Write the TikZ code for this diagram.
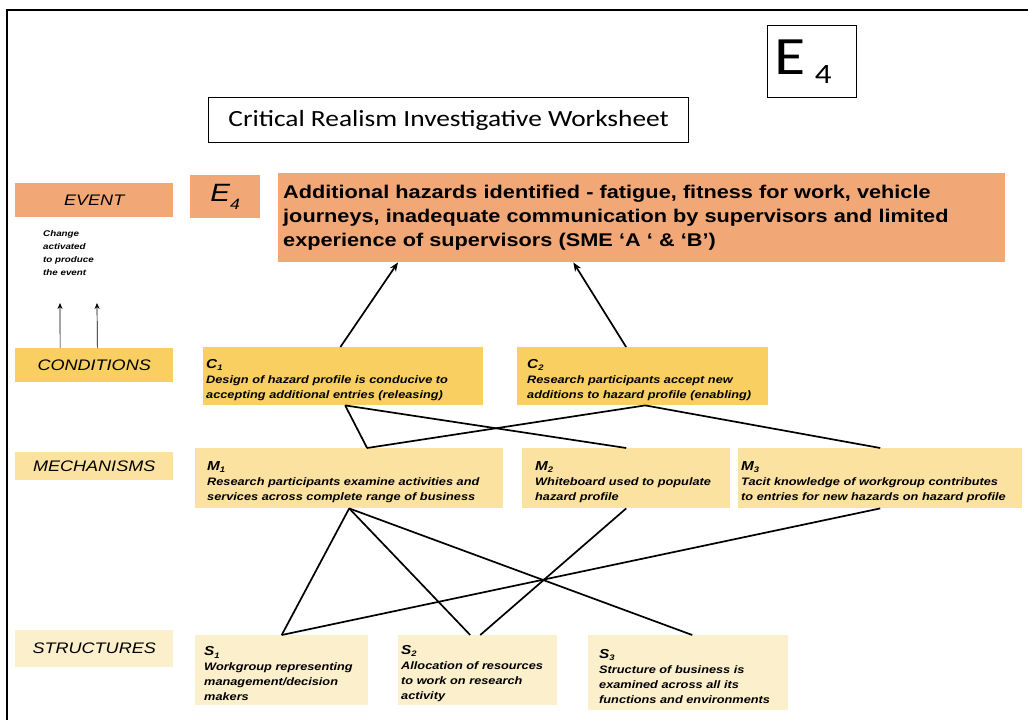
\documentclass[tikz,border=0pt]{standalone}
\usepackage{fontspec}
\setmainfont{Liberation Sans}[FakeStretch=1.18]
\newfontfamily\titlefont{Carlito}[FakeStretch=1.18]
\usetikzlibrary{calc,arrows.meta}

\definecolor{evfill}{RGB}{242,167,118}
\definecolor{cofill}{RGB}{248,207,96}
\definecolor{mefill}{RGB}{251,226,160}
\definecolor{stfill}{RGB}{252,239,204}

% lowered index used in the box headings
\newcommand\lowidx[1]{\raisebox{-0.35ex}{\fontsize{8}{8}\selectfont #1}}
\newcommand\boxhead[2]{{\rule{0pt}{16pt}\fontsize{13}{15}\selectfont #1\lowidx{#2}}}

\tikzset{
  rowlabel/.style={anchor=north west, inner sep=0pt, minimum width=158,
    font=\itshape\fontsize{15.3}{16}\selectfont},
  factorbox/.style={anchor=north west, inner ysep=0pt, align=left,
    font=\bfseries\itshape\fontsize{10.8}{15}\selectfont},
  link/.style={line width=1.7pt},
  causal/.style={line width=1.7pt, -{Stealth[length=9pt,width=7pt]}},
  smallup/.style={line width=0.7pt, -{Stealth[length=6pt,width=5pt]}}
}

\begin{document}
\begin{tikzpicture}[x=1pt,y=-1pt]
\useasboundingbox (0,0) rectangle (1028,720);

% sheet border
\draw[line width=1.6pt] (7,730) -- (7,10) -- (1035,10);

% heading boxes
\node[draw, line width=1.2pt, anchor=north west, minimum width=89, minimum height=72,
  inner sep=0pt, font=\titlefont\fontsize{54}{54}\selectfont] (tag) at (767,25)
  {E\,\raisebox{-9pt}{\fontsize{28}{28}\selectfont 4}\hspace*{18pt}};
\node[draw, line width=1.2pt, anchor=north west, minimum width=480, minimum height=45,
  inner sep=0pt, font=\titlefont\fontsize{23.2}{24}\selectfont] (title) at (208,97)
  {Critical Realism Investigative Worksheet};

% row labels
\node[rowlabel, fill=evfill, minimum height=34] (lev) at (15,183) {EVENT};
\node[rowlabel, fill=cofill, minimum height=34] (lco) at (15,348) {CONDITIONS};
\node[rowlabel, fill=mefill, minimum height=28] (lme) at (15,452) {MECHANISMS};
\node[rowlabel, fill=stfill, minimum height=37] (lst) at (15,630) {STRUCTURES};

% event
\node[anchor=north west, fill=evfill, minimum width=70, minimum height=43, inner sep=0pt,
  font=\itshape\fontsize{25}{25}\selectfont] (evtag) at (190,175)
  {E\raisebox{-0.3em}{\fontsize{15}{15}\selectfont 4}};
\node[anchor=north west, fill=evfill, minimum width=727, minimum height=89,
  inner xsep=5pt, inner ysep=0pt, text width=717, align=left,
  font=\bfseries\fontsize{18.4}{24}\selectfont] (ev) at (278,173)
  {Additional hazards identified - fatigue, fitness for work, vehicle\\
   journeys, inadequate communication by supervisors and limited\\
   experience of supervisors (SME ‘A ‘ \& ‘B’)};

\node[anchor=north west, inner sep=0pt, align=left,
  font=\bfseries\itshape\fontsize{8.3}{13}\selectfont] (note) at (43,230)
  {Change\\activated\\to produce\\the event};
\coordinate (upa) at (60,303);
\coordinate (upb) at (97,303);

% conditions
\node[factorbox, fill=cofill, minimum width=280, minimum height=58,
  inner xsep=3pt, text width=274] (c1) at (203,347)
  {\boxhead{C}{1}\\Design of hazard profile is conducive to\\accepting additional entries (releasing)};
\node[factorbox, fill=cofill, minimum width=251, minimum height=58,
  inner xsep=10pt, text width=231] (c2) at (517,347)
  {\boxhead{C}{2}\\Research participants accept new\\additions to hazard profile (enabling)};

% mechanisms
\node[factorbox, fill=mefill, minimum width=308, minimum height=60,
  inner xsep=12pt, text width=284] (m1) at (195,448)
  {\boxhead{M}{1}\\Research participants examine activities and\\services across complete range of business};
\node[factorbox, fill=mefill, minimum width=208, minimum height=60,
  inner xsep=13pt, text width=182] (m2) at (522,448)
  {\boxhead{M}{2}\\Whiteboard used to populate\\hazard profile};
\node[factorbox, fill=mefill, minimum width=284, minimum height=60,
  inner xsep=3pt, text width=278] (m3) at (738,448)
  {\boxhead{M}{3}\\Tacit knowledge of workgroup contributes\\to entries for new hazards on hazard profile};

% structures
\node[factorbox, fill=stfill, minimum width=173, minimum height=70,
  inner xsep=9pt, text width=155] (s1) at (195,635)
  {\boxhead{S}{1}\\Workgroup representing\\management/decision\\makers};
\node[factorbox, fill=stfill, minimum width=159, minimum height=70,
  inner xsep=3pt, text width=153] (s2) at (398,635)
  {\boxhead{S}{2}\\Allocation of resources\\to work on research\\activity};
\node[factorbox, fill=stfill, minimum width=200, minimum height=75,
  inner xsep=11pt, text width=178] (s3) at (588,635)
  {\boxhead{S}{3}\\Structure of business is\\examined across all its\\functions and environments};

% change arrows beside the labels
\draw[smallup] ($(lco.north west)!0.285!(lco.north east)$) -- (upa);
\draw[smallup] ($(lco.north west)!0.52!(lco.north east)$) -- (upb);

% conditions produce the event
\draw[causal] ($(c1.north west)!0.49!(c1.north east)$) -- ($(ev.south west)!0.165!(ev.south east)$);
\draw[causal] ($(c2.north west)!0.434!(c2.north east)$) -- ($(ev.south west)!0.406!(ev.south east)$);

% mechanisms to conditions
\draw[link] ($(c1.south west)!0.507!(c1.south east)$) -- ($(m1.north west)!0.558!(m1.north east)$);
\draw[link] ($(c1.south west)!0.507!(c1.south east)$) -- (m2.north);
\draw[link] ($(c2.south west)!0.51!(c2.south east)$) -- ($(m1.north west)!0.558!(m1.north east)$);
\draw[link] ($(c2.south west)!0.51!(c2.south east)$) -- (m3.north);

% structures to mechanisms
\draw[link] (m1.south) -- (s1.north);
\draw[link] (m1.south) -- ($(s2.north west)!0.453!(s2.north east)$);
\draw[link] (m1.south) -- ($(s3.north west)!0.52!(s3.north east)$);
\draw[link] (m2.south) -- ($(s2.north west)!0.516!(s2.north east)$);
\draw[link] (m3.south) -- (s1.north);
\end{tikzpicture}
\end{document}
